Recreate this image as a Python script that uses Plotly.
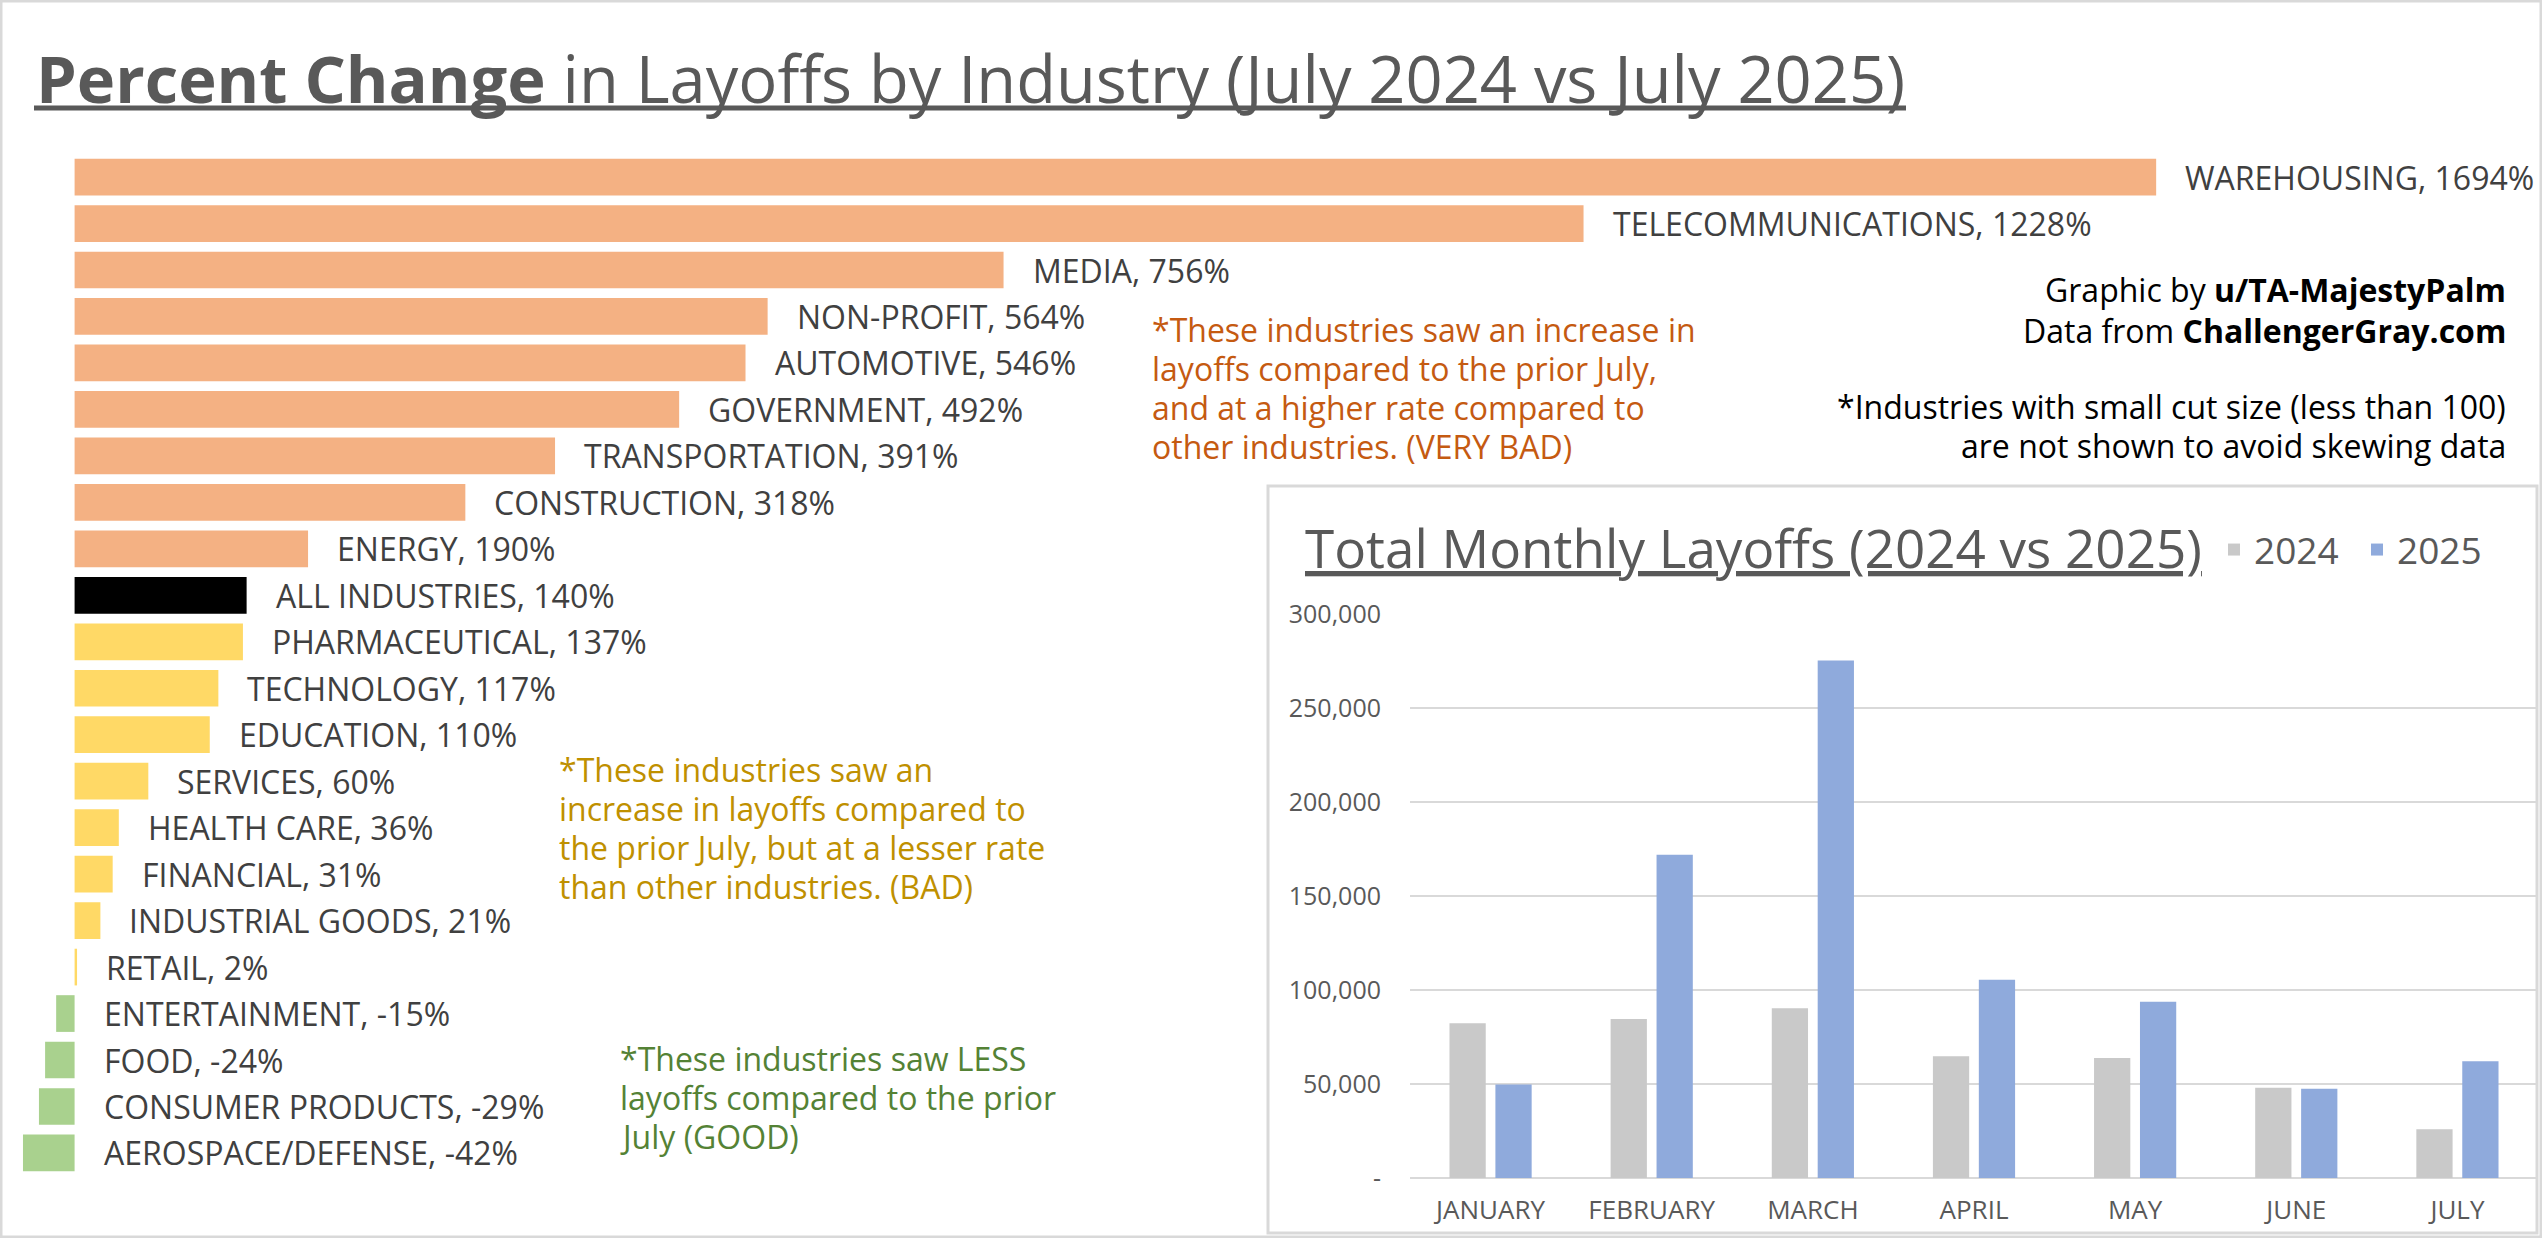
import plotly.graph_objects as go

# percent change in layoffs, July 2024 vs July 2025
industries = [
    "WAREHOUSING", "TELECOMMUNICATIONS", "MEDIA", "NON-PROFIT", "AUTOMOTIVE",
    "GOVERNMENT", "TRANSPORTATION", "CONSTRUCTION", "ENERGY", "ALL INDUSTRIES",
    "PHARMACEUTICAL", "TECHNOLOGY", "EDUCATION", "SERVICES", "HEALTH CARE",
    "FINANCIAL", "INDUSTRIAL GOODS", "RETAIL", "ENTERTAINMENT", "FOOD",
    "CONSUMER PRODUCTS", "AEROSPACE/DEFENSE",
]
pct_change = [1694, 1228, 756, 564, 546, 492, 391, 318, 190, 140,
              137, 117, 110, 60, 36, 31, 21, 2, -15, -24, -29, -42]

# monthly totals (inset)
months = ["JANUARY", "FEBRUARY", "MARCH", "APRIL", "MAY", "JUNE", "JULY"]
layoffs_2024 = [82300, 84600, 90300, 64800, 63800, 48000, 25900]
layoffs_2025 = [49800, 172000, 275200, 105400, 93800, 47500, 62100]
ytick_vals = [0, 50000, 100000, 150000, 200000, 250000, 300000]
ytick_text = ["-", "50,000", "100,000", "150,000", "200,000", "250,000", "300,000"]

W, H = 2542, 1238
FONT = "Open Sans"
GREY = "#595959"


def px(x):
    return x / W


def py(y):
    return 1 - y / H


all_val = pct_change[industries.index("ALL INDUSTRIES")]
colors = []
for name, v in zip(industries, pct_change):
    if name == "ALL INDUSTRIES":
        colors.append("#000000")
    elif v > all_val:
        colors.append("#F4B183")
    elif v >= 0:
        colors.append("#FFD966")
    else:
        colors.append("#A9D18E")

fig = go.Figure()
fig.add_trace(go.Bar(
    x=pct_change, y=industries, orientation="h", marker_color=colors,
    marker_line_width=0, width=0.79, showlegend=False, hoverinfo="x+y",
    xaxis="x", yaxis="y",
))
fig.add_trace(go.Bar(
    x=months, y=layoffs_2024, name="2024", marker_color="#C9C9C9",
    marker_line_width=0, width=0.225, offset=-0.255, xaxis="x2", yaxis="y2",
))
fig.add_trace(go.Bar(
    x=months, y=layoffs_2025, name="2025", marker_color="#8FAADC",
    marker_line_width=0, width=0.225, offset=0.03, xaxis="x2", yaxis="y2",
))

annotations = []
for name, v in zip(industries, pct_change):
    annotations.append(dict(
        x=max(v, 0), y=name, xref="x", yref="y", xanchor="left", xshift=27,
        text=f"{name}, {v}%", showarrow=False,
        font=dict(family=FONT, size=32, color="#404040"),
    ))


def text_block(lines, x, y_first, color, anchor="left", size=32, step=39.3):
    # one annotation per line so the line spacing follows the picture
    for i, line in enumerate(lines):
        annotations.append(dict(
            x=px(x), y=py(y_first + i * step), xref="paper", yref="paper",
            xanchor=anchor, yanchor="middle", text=line, showarrow=False,
            font=dict(family=FONT, size=size, color=color),
        ))


text_block(["*These industries saw an increase in", "layoffs compared to the prior July,",
            "and at a higher rate compared to", "other industries. (VERY BAD)"],
           1150, 329, "#C55A11")
text_block(["*These industries saw an", "increase in layoffs compared to",
            "the prior July, but at a lesser rate", "than other industries. (BAD)"],
           557, 769, "#BF9000")
text_block(["*These industries saw LESS", "layoffs compared to the prior", "July (GOOD)"],
           618, 1058, "#548235")
text_block(["Graphic by <b>u/TA-MajestyPalm</b>", "Data from <b>ChallengerGray.com</b>"],
           2508, 290, "#000000", anchor="right", step=40.5)
text_block(["*Industries with small cut size (less than 100)",
            "are not shown to avoid skewing data"],
           2508, 406, "#000000", anchor="right", step=39)

annotations += [
    dict(x=px(34), y=py(78), xref="paper", yref="paper", xanchor="left", yanchor="middle",
         text="<b>Percent Change</b> in Layoffs by Industry (July 2024 vs July 2025)",
         showarrow=False, font=dict(family=FONT, size=65, color=GREY)),
    dict(x=px(1303), y=py(548), xref="paper", yref="paper", xanchor="left", yanchor="middle",
         text="<u>Total Monthly Layoffs (2024 vs 2025)</u>", showarrow=False,
         font=dict(family=FONT, size=53, color=GREY)),
]

n = len(industries)
fig.update_layout(
    width=W, height=H,
    margin=dict(l=0, r=0, t=0, b=0, autoexpand=False),
    paper_bgcolor="white", plot_bgcolor="rgba(0,0,0,0)",
    font=dict(family=FONT, color=GREY),
    xaxis=dict(domain=[0, 1], range=[-60.7, 2008], visible=False, fixedrange=True,
               automargin=False),
    yaxis=dict(domain=[0, 1], range=[n + 0.83, -3.81], visible=False, automargin=False,
               categoryorder="array", categoryarray=industries, fixedrange=True),
    xaxis2=dict(domain=[px(1410), px(2538)], anchor="y2", showgrid=False,
                showline=False, zeroline=False, ticks="", automargin=False,
                tickfont=dict(family=FONT, size=26, color=GREY), ticklabelstandoff=14),
    yaxis2=dict(domain=[py(1178), py(614)], anchor="x2", range=[0, 300000],
                tickvals=ytick_vals, ticktext=ytick_text, showgrid=True,
                gridcolor="#D9D9D9", gridwidth=2, zeroline=True, zerolinecolor="#D9D9D9",
                zerolinewidth=2, showline=False, ticks="", automargin=False,
                tickfont=dict(family=FONT, size=25, color=GREY), ticklabelstandoff=28),
    legend=dict(orientation="h", x=px(2214), y=py(550), xanchor="left", yanchor="middle",
                bgcolor="rgba(0,0,0,0)", font=dict(family=FONT, size=37, color=GREY),
                entrywidth=98, itemclick=False),
    annotations=annotations,
    shapes=[
        dict(type="rect", xref="paper", yref="paper", x0=0, x1=1, y0=0, y1=1,
             line=dict(color="#D9D9D9", width=5), layer="below"),
        dict(type="rect", xref="paper", yref="paper", x0=px(1268), x1=px(2537),
             y0=py(1233), y1=py(486), line=dict(color="#D9D9D9", width=3),
             fillcolor="white", layer="below"),
        # heavy underline of the main title
        dict(type="line", xref="paper", yref="paper", x0=px(34), x1=px(1906),
             y0=py(108), y1=py(108), line=dict(color=GREY, width=5)),
    ],
)

# the page body has a default margin; drop it so the figure fills the window exactly
fig.write_html("out.html", config={"displayModeBar": False},
               post_script="document.body.style.margin='0';")
